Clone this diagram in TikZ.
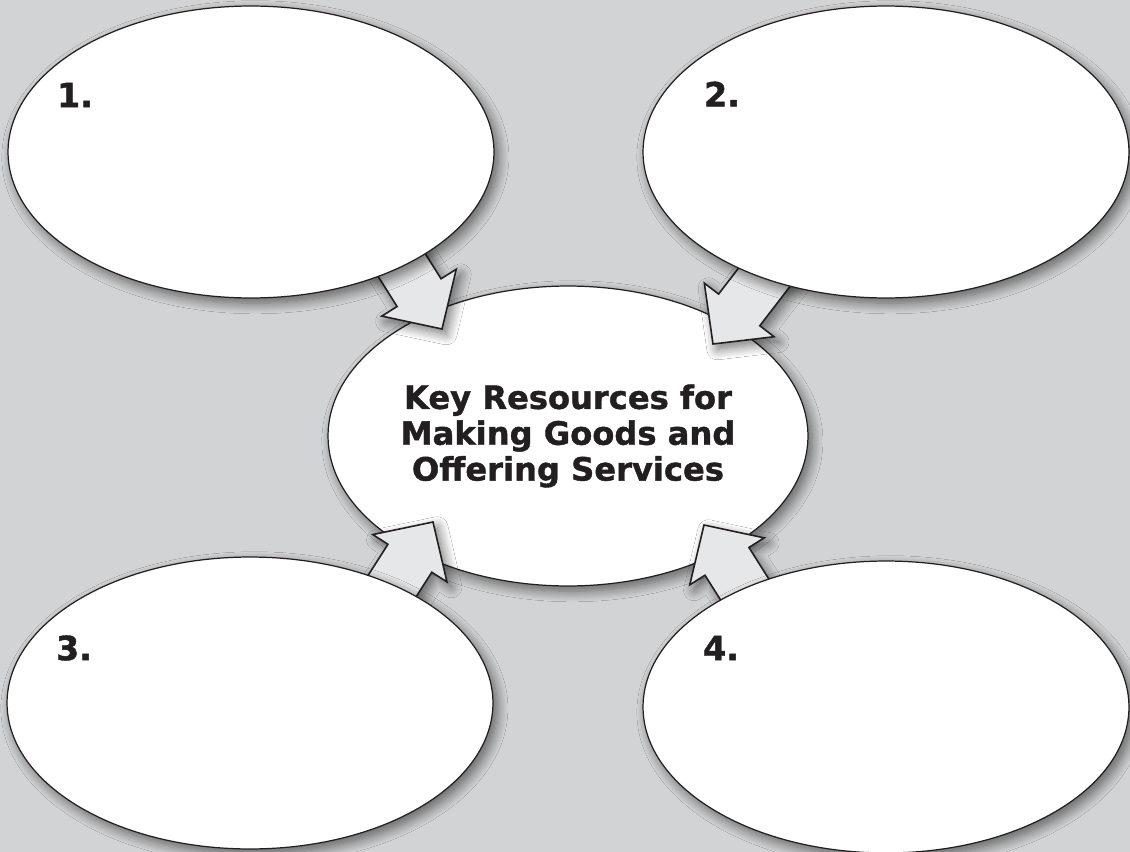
\documentclass[tikz,border=0pt]{standalone}
\usepackage{fontspec}
\setmainfont{DejaVu Sans}[BoldFont={DejaVu Sans Bold},BoldFeatures={FakeBold=1.2}]
\usetikzlibrary{shapes.geometric,shadows.blur,calc}
\definecolor{bggray}{HTML}{D1D3D4}
\definecolor{arrowgray}{HTML}{E6E7E8}
\definecolor{inkblack}{HTML}{231F20}
\tikzset{
  softshadow/.style={blur shadow={shadow xshift=2.5pt,shadow yshift=-3pt,
      shadow blur radius=6pt,shadow blur steps=12,shadow opacity=55}},
  bubble/.style={ellipse,draw=inkblack,line width=0.7pt,fill=white,
      minimum width=9.72cm,minimum height=5.84cm,inner sep=0pt,softshadow},
  hub/.style={bubble,minimum width=9.6cm,minimum height=6cm,align=center,
      text=inkblack,font=\bfseries\fontsize{18.3}{20.4}\selectfont},
  resarrow/.style={draw=inkblack,line width=0.9pt,fill=arrowgray,
      line join=miter,softshadow},
  num/.style={inner sep=0pt,text=inkblack,font=\bfseries\fontsize{19}{20}\selectfont}
}
% block arrow from base coordinate #1 to tip coordinate #2
\newcommand{\blockarrow}[2]{%
  \coordinate (#1h) at ($(#2)!0.86cm!(#1)$);
  \draw[resarrow] ($(#1)!0.52cm!90:(#2)$) -- ($(#1h)!0.52cm!90:(#2)$)
    -- ($(#1h)!0.88cm!90:(#2)$) -- (#2) -- ($(#1h)!0.88cm!-90:(#2)$)
    -- ($(#1h)!0.52cm!-90:(#2)$) -- ($(#1)!0.52cm!-90:(#2)$) -- cycle;}

\begin{document}
\begin{tikzpicture}[x=0.02cm,y=-0.02cm]
  \path[use as bounding box,fill=bggray] (0,0) rectangle (1130,852);

  % centre
  \node[hub] (hub) at (568,436) {Key Resources for\\Making Goods and\\Offering Services};

  % arrows into the centre
  \coordinate (a1) at (384,237);  \coordinate (a1t) at (442,329);
  \coordinate (a2) at (786,249);  \coordinate (a2t) at (713,344);
  \coordinate (a3) at (373,616);  \coordinate (a3t) at (433,522);
  \coordinate (a4) at (764,620);  \coordinate (a4t) at (704,525);
  \blockarrow{a1}{a1t}
  \blockarrow{a2}{a2t}
  \blockarrow{a3}{a3t}
  \blockarrow{a4}{a4t}

  % the four resources
  \node[bubble] (r1) at (251,152) {};
  \node[bubble] (r2) at (886,152) {};
  \node[bubble] (r3) at (250,703) {};
  \node[bubble] (r4) at (886,707) {};

  \node[num] (n1) at (75,95) {1.};
  \node[num] (n2) at (722,94) {2.};
  \node[num] (n3) at (74,648) {3.};
  \node[num] (n4) at (721,648) {4.};
\end{tikzpicture}
\end{document}
